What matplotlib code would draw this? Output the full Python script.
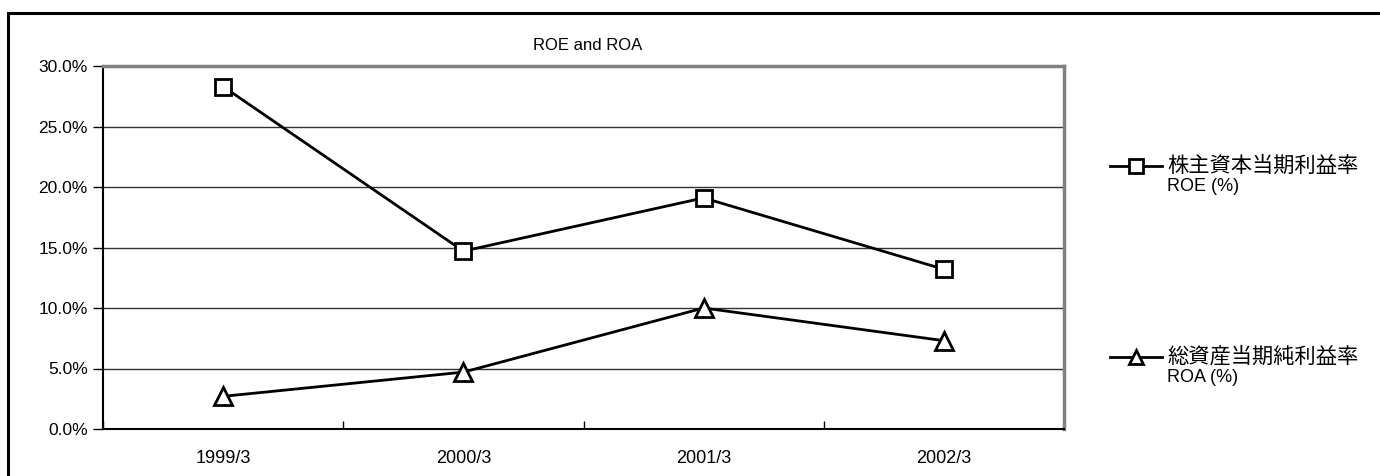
import matplotlib
matplotlib.use("Agg")
import matplotlib.pyplot as plt
from matplotlib.patches import Rectangle
from matplotlib.lines import Line2D

plt.rcParams['font.family'] = ['Liberation Sans', 'Noto Sans CJK JP', 'DejaVu Sans']

categories = ["1999/3", "2000/3", "2001/3", "2002/3"]
roe = [28.3, 14.7, 19.1, 13.2]
roa = [2.7, 4.7, 10.0, 7.3]
y_ticks = [0, 5, 10, 15, 20, 25, 30]
roe_label = ["株主資本当期利益率", "ROE (%)"]
roa_label = ["総資産当期純利益率", "ROA (%)"]
title = "ROE and ROA"

W, H = 1380, 476
fig = plt.figure(figsize=(W / 100, H / 100), dpi=100)

# outer frame (right/bottom run off the image)
fig.patches.append(Rectangle((8 / W, -0.05), 1.1, (H - 13) / H + 0.05,
                             transform=fig.transFigure, fill=False,
                             edgecolor="black", linewidth=2.2))

left, right, top, bottom = 103, 1064, 66, 429
ax = fig.add_axes([left / W, 1 - bottom / H, (right - left) / W, (bottom - top) / H])

x = list(range(len(categories)))
ax.plot(x, roe, color="black", linewidth=2, marker="s", markersize=12,
        markerfacecolor="white", markeredgecolor="black", markeredgewidth=2,
        zorder=3, clip_on=False)
ax.plot(x, roa, color="black", linewidth=2, marker="^", markersize=13,
        markerfacecolor="white", markeredgecolor="black", markeredgewidth=2,
        zorder=3, clip_on=False)

ax.set_xlim(-0.5, len(categories) - 0.5)
ax.set_ylim(0, 30)
ax.set_yticks(y_ticks)
ax.set_yticklabels([f"{v:.1f}%" for v in y_ticks], fontsize=12.5)
ax.set_xticks(x)
ax.set_xticklabels(categories, fontsize=13)
ax.set_xticks([i - 0.5 for i in range(len(categories) + 1)], minor=True)

ax.tick_params(axis="x", which="major", length=0, pad=15)
ax.tick_params(axis="x", which="minor", direction="in", length=6, width=1)
ax.tick_params(axis="y", direction="out", length=7, width=1, pad=4)

for v in y_ticks[1:-1]:
    ax.axhline(v, color="#333333", linewidth=1, zorder=1)

ax.spines["left"].set_linewidth(1.5)
ax.spines["bottom"].set_linewidth(1.5)
ax.spines["top"].set_color("#808080")
ax.spines["top"].set_linewidth(2.5)
ax.spines["right"].set_color("#808080")
ax.spines["right"].set_linewidth(2.5)

fig.text(588 / W, 1 - 46 / H, title, ha="center", va="center", fontsize=12)

# legend drawn by hand in figure coords
for y_pix, mk, ms, label in [(166, "s", 10, roe_label), (357, "^", 10.5, roa_label)]:
    yy = 1 - y_pix / H
    fig.add_artist(Line2D([1110 / W, 1162 / W], [yy, yy], transform=fig.transFigure,
                          color="black", linewidth=2))
    fig.add_artist(Line2D([1136 / W], [yy], transform=fig.transFigure, marker=mk,
                          markersize=ms, markerfacecolor="white",
                          markeredgecolor="black", markeredgewidth=2, linestyle="none"))
    fig.text(1167 / W, yy, label[0], ha="left", va="center", fontsize=15.3,
             family=['Noto Sans CJK JP', 'Liberation Sans'])
    fig.text(1167 / W, 1 - (y_pix + 21) / H, label[1], ha="left", va="center",
             fontsize=13)

fig.savefig("out.png", dpi=100)
